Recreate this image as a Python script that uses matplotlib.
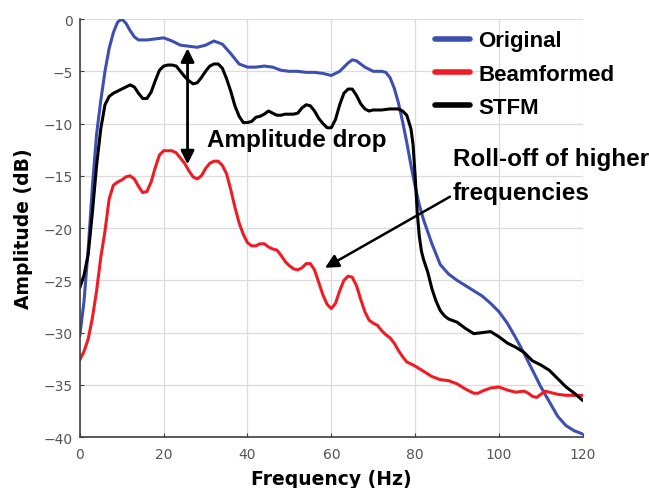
import numpy as np
import matplotlib.pyplot as plt

# ---------------- data ----------------
freq_orig = [0, 1, 2, 3, 4, 5, 6, 7, 8, 9, 10, 11, 12, 13, 14, 16, 18, 20, 22, 24,
             26, 28, 30, 32, 34, 36, 38, 40, 42, 44, 46, 48, 50, 52, 54, 56, 58, 60,
             62, 64, 65, 66, 68, 70, 72, 73, 74, 75, 76, 77, 78, 79, 80, 81, 82, 84,
             86, 88, 90, 92, 94, 96, 98, 100, 102, 104, 106, 108, 110, 112, 114, 116,
             118, 120]
amp_orig = [-30.3, -27, -22, -16, -11, -7.8, -5, -2.8, -1.3, -0.3, 0, -0.4, -1.1, -1.7,
            -2.0, -2.0, -1.9, -1.8, -2.1, -2.5, -2.6, -2.7, -2.5, -2.1, -2.4, -3.3,
            -4.3, -4.6, -4.6, -4.5, -4.6, -4.9, -5.0, -5.0, -5.1, -5.1, -5.2, -5.4,
            -5.0, -4.2, -3.9, -4.0, -4.6, -5.0, -5.0, -5.1, -5.6, -6.6, -8.0, -9.8,
            -11.8, -14.0, -16.0, -17.8, -19.2, -21.5, -23.5, -24.4, -25.0, -25.5,
            -26.0, -26.5, -27.2, -28.0, -29.1, -30.5, -32.0, -33.6, -35.2, -36.6,
            -38.0, -38.9, -39.4, -39.7]

freq_beam = [0, 1, 2, 3, 4, 5, 6, 7, 8, 9, 10, 11, 12, 13, 14, 15, 16, 17, 18, 19, 20,
             21, 22, 23, 24, 25, 26, 27, 28, 29, 30, 31, 32, 33, 34, 35, 36, 37, 38,
             39, 40, 41, 42, 43, 44, 45, 46, 47, 48, 49, 50, 51, 52, 53, 54, 55, 56,
             57, 58, 59, 60, 61, 62, 63, 64, 65, 66, 67, 68, 69, 70, 71, 72, 73, 74,
             75, 76, 77, 78, 80, 82, 84, 86, 88, 90, 92, 94, 95, 96, 98, 100, 102,
             104, 106, 107, 108, 109, 110, 111, 112, 114, 116, 118, 120]
amp_beam = [-32.6, -31.8, -30.6, -28.6, -26.0, -22.8, -20.3, -17.2, -15.9, -15.6, -15.4,
            -15.1, -15.0, -15.3, -16.0, -16.6, -16.5, -15.6, -14.2, -13.0, -12.6,
            -12.6, -12.6, -12.8, -13.3, -13.8, -14.5, -15.1, -15.3, -15.0, -14.3,
            -13.8, -13.6, -13.6, -14.0, -14.8, -16.3, -18.0, -19.5, -20.6, -21.4,
            -21.7, -21.7, -21.5, -21.5, -21.8, -22.0, -22.1, -22.6, -23.2, -23.6,
            -23.9, -24.0, -23.8, -23.4, -23.4, -24.0, -25.2, -26.4, -27.3, -27.7,
            -27.2, -26.0, -25.0, -24.6, -24.7, -25.5, -26.8, -28.0, -28.8, -29.1,
            -29.3, -29.8, -30.2, -30.5, -31.0, -31.7, -32.3, -32.8, -33.2, -33.7,
            -34.2, -34.5, -34.6, -34.9, -35.4, -35.8, -35.8, -35.6, -35.3, -35.2,
            -35.5, -35.7, -35.6, -35.8, -36.1, -36.2, -35.9, -35.6, -35.7, -35.9,
            -36.0, -36.0, -36.0]

freq_stfm = [0, 1, 2, 3, 4, 5, 6, 7, 8, 9, 10, 11, 12, 13, 14, 15, 16, 17, 18, 19, 20,
             21, 22, 23, 24, 25, 26, 27, 28, 29, 30, 31, 32, 33, 34, 35, 36, 37, 38,
             39, 40, 41, 42, 43, 44, 45, 46, 47, 48, 49, 50, 51, 52, 53, 54, 55, 56,
             57, 58, 59, 60, 61, 62, 63, 64, 65, 66, 67, 68, 69, 70, 72, 74, 76, 77,
             78, 79, 79.5, 80, 80.5, 81, 81.5, 82, 83, 84, 85, 86, 87, 88, 90, 92,
             94, 96, 98, 100, 102, 104, 106, 108, 110, 112, 114, 116, 118, 120]
amp_stfm = [-25.7, -24.5, -22.5, -18.5, -14.0, -10.5, -8.2, -7.4, -7.1, -6.9, -6.7,
            -6.5, -6.3, -6.5, -7.1, -7.6, -7.6, -7.0, -5.9, -4.9, -4.5, -4.4, -4.4,
            -4.5, -5.0, -5.5, -5.9, -6.2, -6.1, -5.6, -5.0, -4.5, -4.3, -4.3, -4.7,
            -5.7, -6.9, -8.3, -9.3, -9.9, -9.9, -9.8, -9.4, -9.3, -9.1, -8.8, -9.0,
            -9.2, -9.2, -9.1, -9.1, -9.1, -9.0, -8.5, -8.2, -8.3, -8.8, -9.5, -10.0,
            -10.4, -10.4, -9.6, -8.2, -7.1, -6.7, -6.7, -7.3, -8.1, -8.6, -8.8, -8.7,
            -8.7, -8.6, -8.6, -8.8, -9.2, -10.5, -12.0, -15.0, -18.5, -20.8, -22.2,
            -23.0, -24.2, -25.8, -27.0, -27.9, -28.4, -28.7, -29.0, -29.6, -30.1,
            -30.0, -29.9, -30.4, -31.0, -31.4, -31.9, -32.7, -33.1, -33.6, -34.4,
            -35.2, -35.8, -36.5]

series_names = ["Original", "Beamformed", "STFM"]
series_colors = ["#3d4fb0", "#f01c24", "#000000"]

# ---------------- plot ----------------
arial = ['Liberation Sans', 'DejaVu Sans']

fig = plt.figure(figsize=(6.49, 4.89), dpi=100)
ax = fig.add_axes([0.123, 0.104, 0.775, 0.855])

lines = []
for fx, fy, name, col in zip([freq_orig, freq_beam, freq_stfm],
                             [amp_orig, amp_beam, amp_stfm],
                             series_names, series_colors):
    ln, = ax.plot(fx, fy, color=col, lw=2.2, label=name, solid_capstyle='round')
    lines.append(ln)

ax.set_xlim(0, 120)
ax.set_ylim(-40, 0)
ax.set_xticks(np.arange(0, 121, 20))
ax.set_yticks(np.arange(-40, 1, 5))
ax.grid(True, color='#dcdcdc', lw=0.9)
ax.set_axisbelow(True)
for s in ['top', 'right']:
    ax.spines[s].set_visible(False)
for s in ['left', 'bottom']:
    ax.spines[s].set_color('#404040')
    ax.spines[s].set_linewidth(1.2)
ax.tick_params(direction='in', length=3, colors='#404040', labelsize=10,
               labelcolor='#555555', pad=5)
ax.tick_params(axis='x', pad=7)

ax.set_xlabel("Frequency (Hz)", fontsize=13.5, fontweight='bold', labelpad=6)
ax.set_ylabel("Amplitude (dB)", fontsize=13.5, fontweight='bold', labelpad=8)

# annotations
ax.annotate("", xy=(25.7, -13.9), xytext=(25.7, -2.8),
            arrowprops=dict(arrowstyle='<|-|>', color='black', lw=2,
                            mutation_scale=20, shrinkA=0, shrinkB=0))
ax.text(30.3, -11.5, "Amplitude drop", family=arial, fontweight='bold',
        fontsize=17.5, va='center', ha='left')

ax.text(89, -15.0, "Roll-off of higher\nfrequencies", family=arial,
        fontweight='bold', fontsize=17.5, va='center', ha='left', linespacing=1.6)
ax.annotate("", xy=(58.5, -23.8), xytext=(88.3, -17.0),
            arrowprops=dict(arrowstyle='-|>', color='black', lw=1.8,
                            mutation_scale=20, shrinkA=0, shrinkB=0))

leg = ax.legend(handles=lines, loc='upper left', bbox_to_anchor=(0.675, 1.01),
                frameon=False, prop=dict(family=arial, weight='bold', size=16),
                handlelength=1.6, handletextpad=0.35, labelspacing=0.55,
                borderaxespad=0.3)
for lh in leg.get_lines():
    lh.set_linewidth(4)

fig.savefig("out.png", dpi=100)
